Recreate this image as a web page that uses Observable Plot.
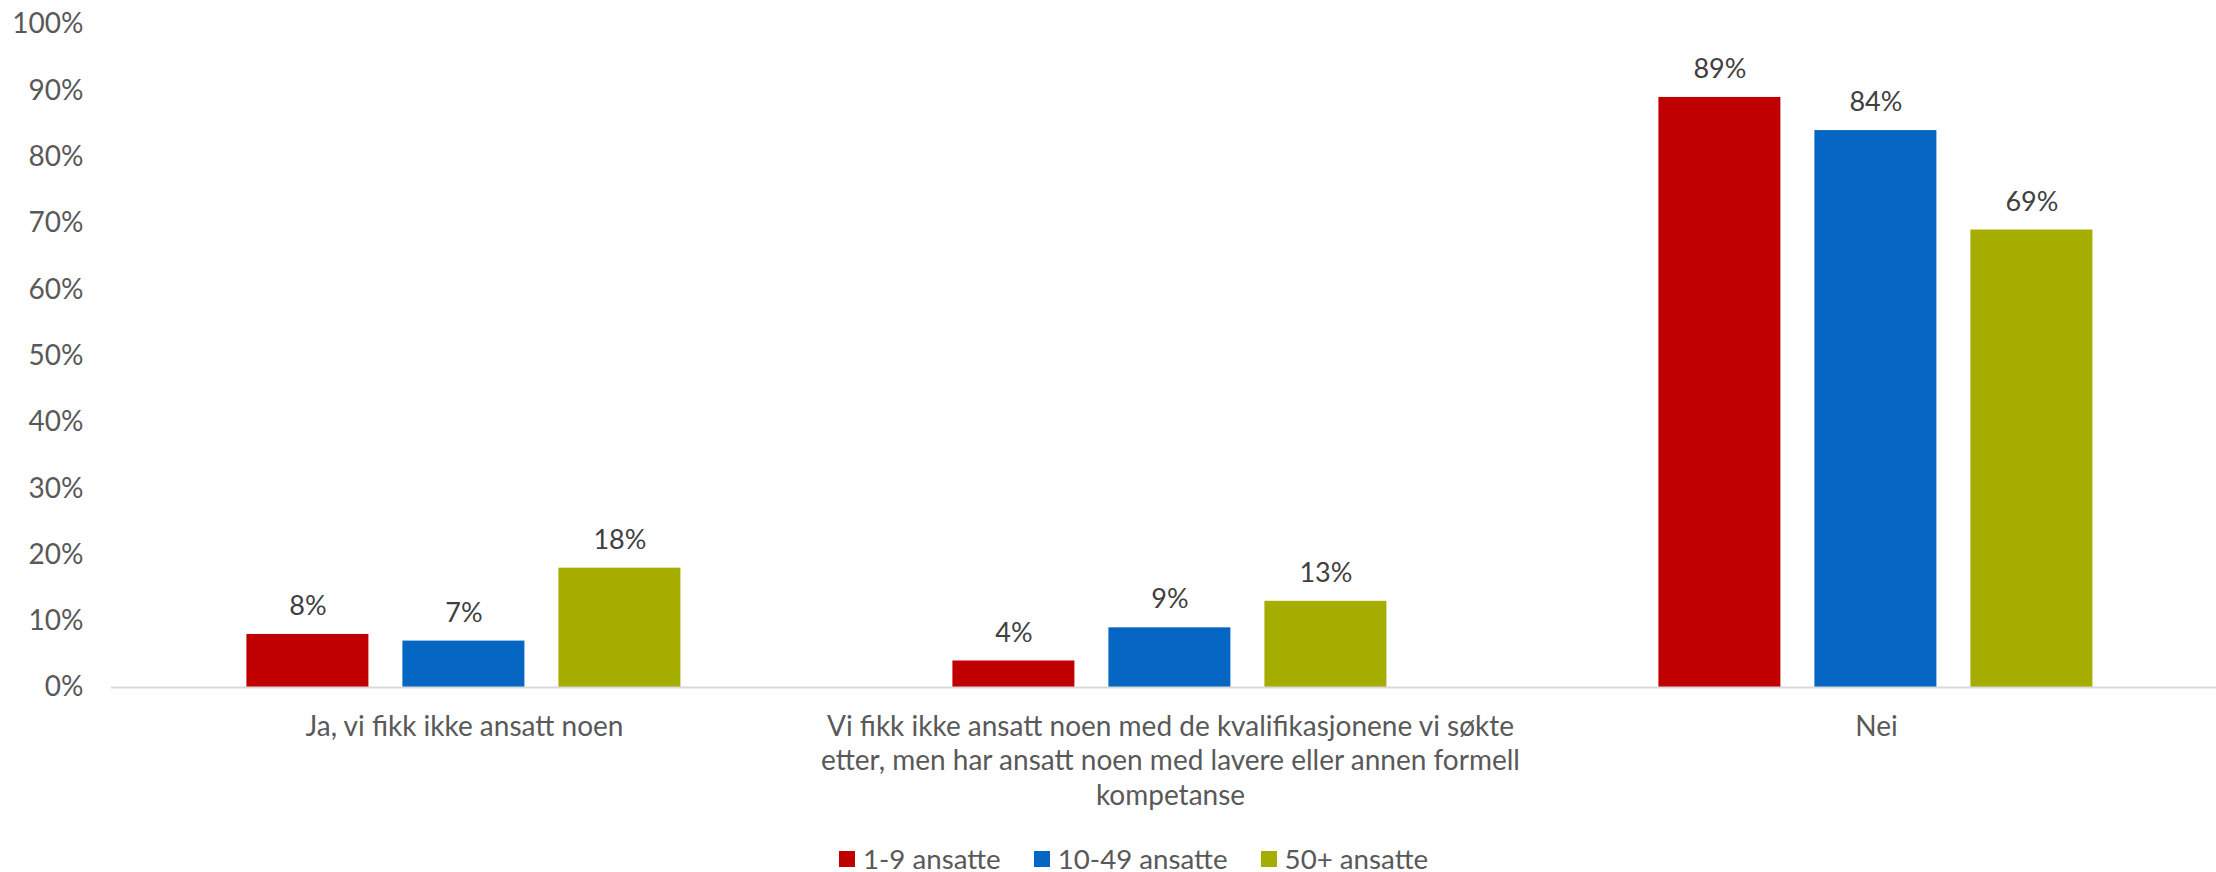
<!DOCTYPE html>
<html>
<head>
<meta charset="utf-8">
<script src="https://cdn.jsdelivr.net/npm/d3@7"></script>
<script src="https://cdn.jsdelivr.net/npm/@observablehq/plot@0.6"></script>
<style>
  html, body { margin: 0; padding: 0; background: #fff; }
  body { width: 2216px; height: 872px; position: relative; overflow: hidden; font-family: Lato, "Open Sans", sans-serif; }
  #legend { position: absolute; left: 839px; top: 843px; display: flex; gap: 33px; align-items: center; font-size: 27.7px; color: #595959; line-height: 32px; }
  #legend .item { display: flex; align-items: center; }
  #legend .sw { width: 16px; height: 16px; margin-right: 8px; display: inline-block; }
</style>
</head>
<body>
<div id="chart"></div>
<div id="legend"></div>
<script>
const categories = [
  "Ja, vi fikk ikke ansatt noen",
  "Vi fikk ikke ansatt noen med de kvalifikasjonene vi søkte etter, men har ansatt noen med lavere eller annen formell kompetanse",
  "Nei"
];
const categoryLabels = [
  "Ja, vi fikk ikke ansatt noen",
  "Vi fikk ikke ansatt noen med de kvalifikasjonene vi søkte\netter, men har ansatt noen med lavere eller annen formell\nkompetanse",
  "Nei"
];
const series = ["1-9 ansatte", "10-49 ansatte", "50+ ansatte"];
const colors = ["#C00000", "#0566C4", "#A5AD00"];
const values_1_9 = [8, 4, 89];
const values_10_49 = [7, 9, 84];
const values_50 = [18, 13, 69];
const yTicks = [0, 10, 20, 30, 40, 50, 60, 70, 80, 90, 100];

const seriesValues = [values_1_9, values_10_49, values_50];
const data = [];
categories.forEach((c, i) => {
  series.forEach((s, j) => {
    data.push({category: c, series: s, value: seriesValues[j][i]});
  });
});
const labelOf = new Map(categories.map((c, i) => [c, categoryLabels[i]]));

const FS = 28;
const chart = Plot.plot({
  width: 2216,
  height: 834,
  marginLeft: 109.6,
  marginRight: -14,
  marginTop: 24,
  marginBottom: 147,
  style: {fontFamily: "Lato, 'Open Sans', sans-serif", background: "#fff"},
  fx: {domain: categories, padding: 0, label: null, axis: null},
  x: {domain: series, paddingInner: 0.2166, paddingOuter: 0.859, axis: null},
  y: {domain: [0, 100], axis: null},
  color: {domain: series, range: colors},
  marks: [
    Plot.axisY({ticks: yTicks, tickSize: 0, tickPadding: 28, tickFormat: d => d + "%", fontSize: FS, color: "#595959", label: null}),
    Plot.barY(data, {fx: "category", x: "series", y: "value", fill: "series"}),
    Plot.text(data, {fx: "category", x: "series", y: "value", text: d => d.value + "%", dy: -28, fontSize: 27, fill: "#404040", lineAnchor: "middle"}),
    Plot.ruleY([0], {stroke: "#D9D9D9", strokeWidth: 2}),
    Plot.axisFx({anchor: "bottom", tickSize: 0, tickPadding: 24, tickFormat: d => labelOf.get(d), fontSize: FS, color: "#595959", lineHeight: 1.23, label: null})
  ]
});
document.getElementById("chart").appendChild(chart);

const legend = document.getElementById("legend");
series.forEach((s, i) => {
  const item = document.createElement("div");
  item.className = "item";
  const sw = document.createElement("span");
  sw.className = "sw";
  sw.style.background = colors[i];
  const t = document.createElement("span");
  t.textContent = s;
  item.appendChild(sw);
  item.appendChild(t);
  legend.appendChild(item);
});
</script>
</body>
</html>
